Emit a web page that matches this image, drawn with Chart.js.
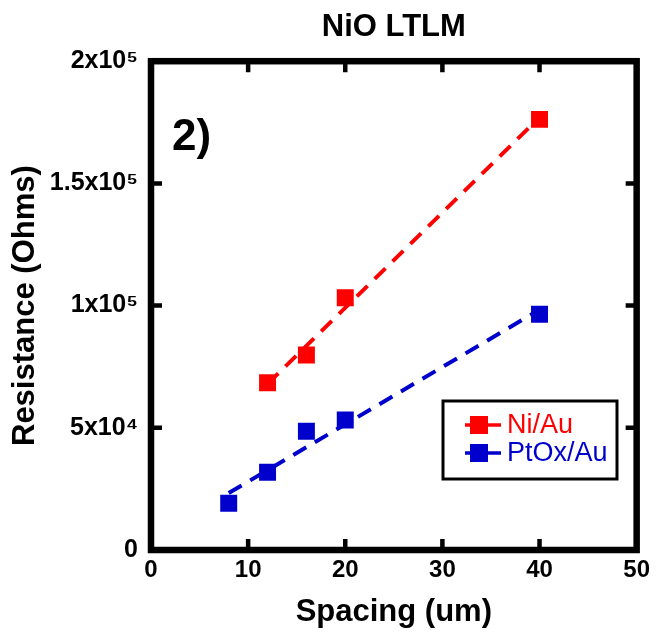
<!DOCTYPE html>
<html lang="en">
<head>
  <meta charset="UTF-8">
  <title>NiO LTLM</title>
  <script src="https://cdn.jsdelivr.net/npm/chart.js"></script>
  <style>
    body { margin: 0; background: #fff; }
    #wrap { width: 656px; height: 636px; }
  </style>
</head>
<body>
  <div id="wrap"><canvas id="myChart" width="656" height="636"></canvas></div>
  <script>
    // Data
    const niSpacing = [12, 16, 20, 40];
    const niResistance = [68400, 79800, 103200, 176200];
    const ptSpacing = [8, 12, 16, 20, 40];
    const ptResistance = [19100, 31800, 48600, 53200, 96500];

    // End points of the dashed fit lines
    const niFitX = [12, 40];
    const niFitY = [68000, 177000];
    const ptFitX = [8, 40];
    const ptFitY = [23300, 98300];

    const xTicks = [0, 10, 20, 30, 40, 50];
    const yTicks = [0, 50000, 100000, 150000, 200000];
    const yTickLabels = ['0', '5x10\u2074', '1x10\u2075', '1.5x10\u2075', '2x10\u2075'];

    const RED = '#ff0000';
    const BLUE = '#0000cc';
    const FONT = "'Liberation Sans', Arial, sans-serif";

    const toPoints = (xs, ys) => xs.map((x, i) => ({ x: x, y: ys[i] }));

    // frame, inward ticks, panel label and legend box
    const framePlugin = {
      id: 'frame',
      afterDraw(chart) {
        const ctx = chart.ctx;
        const a = chart.chartArea;
        const xs = chart.scales.x;
        const ys = chart.scales.y;
        ctx.save();

        ctx.strokeStyle = '#000';
        ctx.lineWidth = 4.5;
        ctx.beginPath();
        xTicks.slice(1, -1).forEach(v => {
          const px = xs.getPixelForValue(v);
          ctx.moveTo(px, a.bottom); ctx.lineTo(px, a.bottom - 11);
          ctx.moveTo(px, a.top); ctx.lineTo(px, a.top + 11);
        });
        yTicks.slice(1, -1).forEach(v => {
          const py = ys.getPixelForValue(v);
          ctx.moveTo(a.left, py); ctx.lineTo(a.left + 11, py);
          ctx.moveTo(a.right, py); ctx.lineTo(a.right - 11, py);
        });
        ctx.stroke();

        ctx.lineWidth = 6.5;
        ctx.strokeRect(a.left, a.top, a.right - a.left, a.bottom - a.top);

        // panel label
        ctx.fillStyle = '#000';
        ctx.font = 'bold 44px ' + FONT;
        ctx.textBaseline = 'alphabetic';
        ctx.textAlign = 'left';
        ctx.fillText('2)', 172, 150);

        // legend
        const lx = 443, ly = 401, lw = 174, lh = 78;
        ctx.fillStyle = '#fff';
        ctx.fillRect(lx, ly, lw, lh);
        ctx.strokeStyle = '#000';
        ctx.lineWidth = 3;
        ctx.strokeRect(lx, ly, lw, lh);
        const items = chart.data.datasets.filter(d => !d.isFit);
        ctx.font = '27px ' + FONT;
        ctx.textBaseline = 'middle';
        items.forEach((d, i) => {
          const cy = 425 + i * 28;
          ctx.strokeStyle = d.borderColor;
          ctx.lineWidth = 3.5;
          ctx.beginPath();
          ctx.moveTo(465, cy); ctx.lineTo(501, cy);
          ctx.stroke();
          ctx.fillStyle = d.backgroundColor;
          ctx.fillRect(470, cy - 9, 18, 18);
          ctx.fillText(d.label, 507, cy + 1);
        });
        ctx.restore();
      }
    };

    const ctx = document.getElementById('myChart').getContext('2d');
    new Chart(ctx, {
      type: 'scatter',
      data: {
        datasets: [
          {
            label: 'Ni/Au',
            data: toPoints(niSpacing, niResistance),
            backgroundColor: RED,
            borderColor: RED,
            pointStyle: 'rect',
            pointRadius: 12,
            pointBorderWidth: 0,
            order: 1
          },
          {
            label: 'PtOx/Au',
            data: toPoints(ptSpacing, ptResistance),
            backgroundColor: BLUE,
            borderColor: BLUE,
            pointStyle: 'rect',
            pointRadius: 12,
            pointBorderWidth: 0,
            order: 1
          },
          {
            label: 'Ni/Au fit',
            isFit: true,
            data: toPoints(niFitX, niFitY),
            showLine: true,
            borderColor: RED,
            borderWidth: 4,
            borderDash: [15, 10],
            pointRadius: 0,
            order: 2
          },
          {
            label: 'PtOx/Au fit',
            isFit: true,
            data: toPoints(ptFitX, ptFitY),
            showLine: true,
            borderColor: BLUE,
            borderWidth: 4,
            borderDash: [15, 10],
            pointRadius: 0,
            order: 2
          }
        ]
      },
      options: {
        responsive: false,
        animation: false,
        layout: { padding: { left: 0, right: 17, top: 0, bottom: 0 } },
        plugins: {
          legend: { display: false },
          tooltip: { enabled: false },
          title: {
            display: true,
            text: 'NiO LTLM',
            fullSize: false,
            color: '#000',
            font: { family: FONT, size: 31, weight: 'bold', lineHeight: 1.2 },
            padding: { top: 9, bottom: 15 }
          }
        },
        scales: {
          x: {
            type: 'linear',
            min: 0,
            max: 50,
            afterFit(scale) { scale.height = 86; },
            grid: { display: false, drawTicks: false },
            border: { display: false },
            ticks: {
              stepSize: 10,
              padding: 6,
              color: '#000',
              font: { family: FONT, size: 24, weight: 'bold' }
            },
            title: {
              display: true,
              text: 'Spacing (um)',
              color: '#000',
              font: { family: FONT, size: 31, weight: 'bold', lineHeight: 1.2 },
              padding: { top: 0, bottom: 5 }
            }
          },
          y: {
            type: 'linear',
            min: 0,
            max: 200000,
            afterFit(scale) { scale.width = 151; },
            grid: { display: false, drawTicks: false },
            border: { display: false },
            ticks: {
              stepSize: 50000,
              padding: 13,
              color: '#000',
              font: { family: FONT, size: 25, weight: 'bold' },
              callback: (v) => {
                const i = yTicks.indexOf(v);
                return i >= 0 ? yTickLabels[i] : '';
              }
            },
            title: {
              display: true,
              text: 'Resistance (Ohms)',
              color: '#000',
              font: { family: FONT, size: 31, weight: 'bold', lineHeight: 1.2 },
              padding: { top: 7, bottom: 0 }
            }
          }
        }
      },
      plugins: [framePlugin]
    });
  </script>
</body>
</html>
